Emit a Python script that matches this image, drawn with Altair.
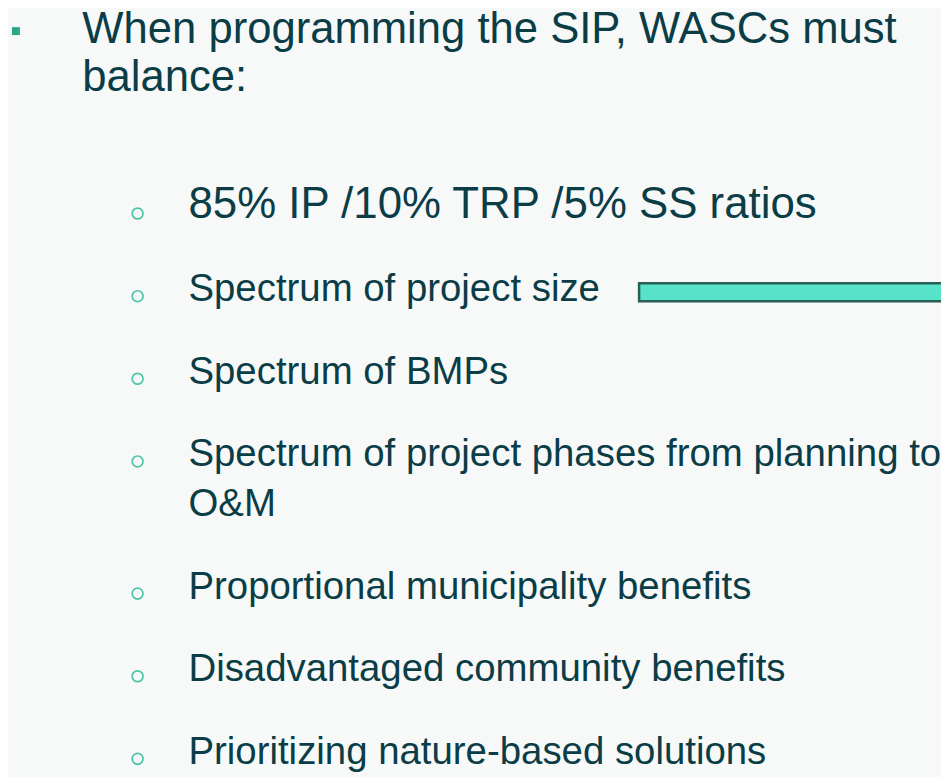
import altair as alt
import pandas as pd

heading = ["When programming the SIP, WASCs must\nbalance:"]
items = [
    "85% IP /10% TRP /5% SS ratios",
    "Spectrum of project size",
    "Spectrum of BMPs",
    "Spectrum of project phases from planning to\nO&M",
    "Proportional municipality benefits",
    "Disadvantaged community benefits",
    "Prioritizing nature-based solutions",
]
emphasis = [True, False, False, False, False, False, False]

FONT = "Liberation Sans"
TEXT = "#0b3d47"

# slot index: one unit per bullet, plus a fraction for each wrapped line above
slots = []
wraps = 0
for i, t in enumerate(items):
    slots.append(i + 0.6 * wraps)
    wraps += t.count("\n")
df = pd.DataFrame({"text": items, "slot": slots, "big": emphasis})
yscale = alt.Scale(domain=[0, 6.6], range=[209, 759])
one = pd.DataFrame({"a": [0]})

square = alt.Chart(one).mark_point(shape="square", filled=True, size=64, color="#2ba88c", opacity=1).encode(
    x=alt.value(8), y=alt.value(20))

title = alt.Chart(pd.DataFrame({"text": heading})).mark_text(
    align="left", baseline="alphabetic", lineBreak="\n", lineHeight=48,
    fontSize=44, font=FONT, color=TEXT).encode(
    x=alt.value(75), y=alt.value(32), text="text:N")

bullets = alt.Chart(df).mark_point(shape="circle", filled=False, size=120, strokeWidth=1.7,
                                   color="#4bc4a5", opacity=1, yOffset=-5).encode(
    x=alt.value(130.7), y=alt.Y("slot:Q", scale=yscale, axis=None))

big_text = alt.Chart(df).transform_filter("datum.big").mark_text(
    align="left", baseline="alphabetic", fontSize=44.2, font=FONT, color=TEXT).encode(
    x=alt.value(182), y=alt.Y("slot:Q", scale=yscale, axis=None), text="text:N")

small_text = alt.Chart(df).transform_filter("!datum.big").mark_text(
    align="left", baseline="alphabetic", lineBreak="\n", lineHeight=50,
    fontSize=38.7, font=FONT, color=TEXT).encode(
    x=alt.value(182), y=alt.Y("slot:Q", scale=yscale, axis=None), text="text:N")

bar = alt.Chart(one).mark_rect(fill="#57e3c9", stroke="#2a5f58", strokeWidth=2.5).encode(
    x=alt.value(636.5), x2=alt.value(980), y=alt.value(274.2), y2=alt.value(292.5))

chart = alt.layer(square, title, bar, bullets, big_text, small_text).properties(
    width=941, height=769, autosize=alt.AutoSizeParams(type="none"), padding=0
).configure(background="#f7f9f9").configure_view(stroke=None)

chart.save("out.html", embed_options={"renderer": "svg", "actions": False})
